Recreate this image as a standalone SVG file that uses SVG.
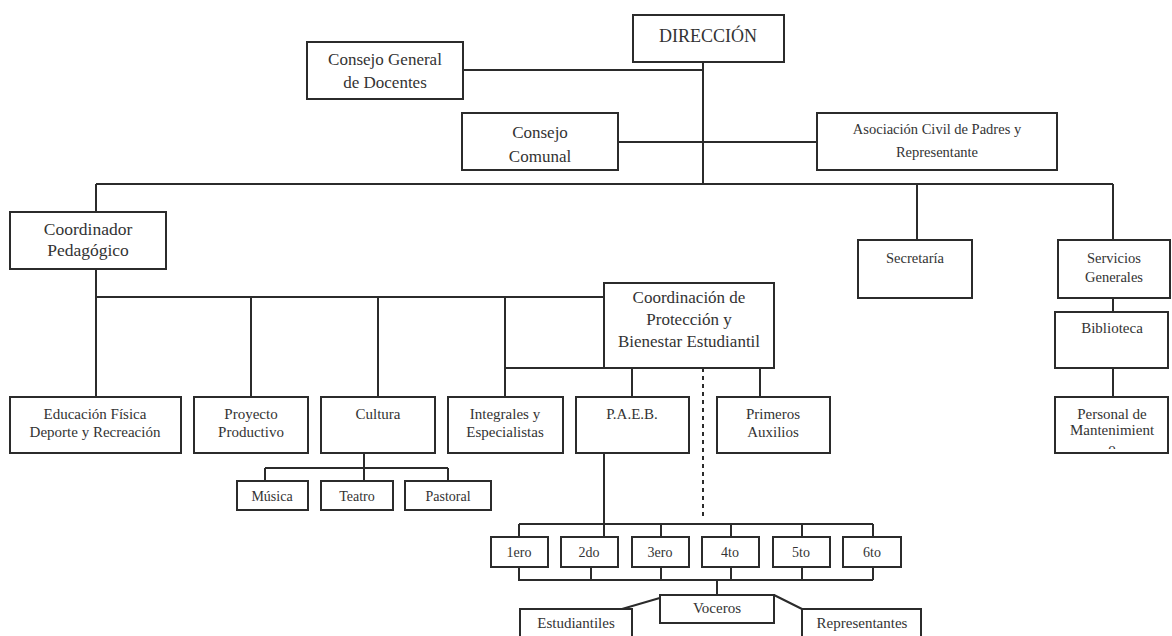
<svg xmlns="http://www.w3.org/2000/svg" width="1172" height="636" viewBox="0 0 1172 636">
<defs>
<style>
.b{fill:#fff;stroke:#2b2b2b;stroke-width:2}
.t{font-family:"Liberation Serif","Times New Roman",serif;fill:#333;text-anchor:middle}
.c path{fill:none;stroke:#2b2b2b;stroke-width:2}
.c .d{stroke-dasharray:4 4}
</style>
<clipPath id="pmclip"><rect x="1055" y="397" width="113" height="52"/></clipPath>
</defs>
<rect width="1172" height="636" fill="#fff"/>
<g class="c" id="connectors">
<path d="M703,62V184M463,70H703M618,142H817M96,184H1113M96,184V212M917,184V240M1113,184V240M1113,298V312M1113,368V397"/>
<path d="M96,269V397M96,297H604M251,297V397M378,297V397M505,297V397M505,368H604M632,368V397M760,368V397"/>
<path class="d" d="M703,368V520"/>
<path d="M364,453V481M265,468H448M265,468V481M448,468V481"/>
<path d="M604,453V537M519,524H873M519,524V537M661,524V537M731,524V537M802,524V537M873,524V537"/>
<path d="M519,567V580H873M591,567V580M661,567V580M731,567V580M802,567V580M873,567V580M717,580V595"/>
<path d="M670,595L622,609M774,595L802,609"/>
</g>
<g id="direccion"><rect class="b" x="633" y="15" width="151" height="47"/><text class="t" x="708" y="42" font-size="18">DIRECCIÓN</text></g>
<g id="consejo-general"><rect class="b" x="307" y="42" width="156" height="57"/><text class="t" x="385" y="65" font-size="17">Consejo General</text><text class="t" x="385" y="88" font-size="17">de Docentes</text></g>
<g id="consejo-comunal"><rect class="b" x="462" y="113" width="156" height="57"/><text class="t" x="540" y="138" font-size="17">Consejo</text><text class="t" x="540" y="162" font-size="17">Comunal</text></g>
<g id="asociacion"><rect class="b" x="817" y="113" width="240" height="57"/><text class="t" x="937" y="134" font-size="14.5">Asociación Civil de Padres y</text><text class="t" x="937" y="157" font-size="14.5">Representante</text></g>
<g id="coordinador"><rect class="b" x="10" y="212" width="156" height="57"/><text class="t" x="88" y="235" font-size="17.5">Coordinador</text><text class="t" x="88" y="256" font-size="17.5">Pedagógico</text></g>
<g id="secretaria"><rect class="b" x="858" y="240" width="114" height="58"/><text class="t" x="915" y="263" font-size="14.5">Secretaría</text></g>
<g id="servicios"><rect class="b" x="1058" y="240" width="112" height="58"/><text class="t" x="1114" y="263" font-size="14.5">Servicios</text><text class="t" x="1114" y="282" font-size="14.5">Generales</text></g>
<g id="biblioteca"><rect class="b" x="1055" y="312" width="113" height="56"/><text class="t" x="1112" y="333" font-size="15">Biblioteca</text></g>
<g id="personal"><rect class="b" x="1055" y="397" width="113" height="56"/><text class="t" x="1112" y="419" font-size="15">Personal de</text><text class="t" x="1112" y="435" font-size="15">Mantenimient</text><text class="t" x="1112" y="453" font-size="15" clip-path="url(#pmclip)">o</text></g>
<g id="coordinacion"><rect class="b" x="604" y="283" width="170" height="85"/><text class="t" x="689" y="303" font-size="17">Coordinación de</text><text class="t" x="689" y="325" font-size="17">Protección y</text><text class="t" x="689" y="347" font-size="17">Bienestar Estudiantil</text></g>
<g id="educacion"><rect class="b" x="10" y="397" width="171" height="56"/><text class="t" x="95" y="419" font-size="15">Educación Física</text><text class="t" x="95" y="437" font-size="15">Deporte y Recreación</text></g>
<g id="proyecto"><rect class="b" x="194" y="397" width="114" height="56"/><text class="t" x="251" y="419" font-size="15">Proyecto</text><text class="t" x="251" y="437" font-size="15">Productivo</text></g>
<g id="cultura"><rect class="b" x="321" y="397" width="114" height="56"/><text class="t" x="378" y="419" font-size="15">Cultura</text></g>
<g id="integrales"><rect class="b" x="448" y="397" width="115" height="56"/><text class="t" x="505" y="419" font-size="15">Integrales y</text><text class="t" x="505" y="437" font-size="15">Especialistas</text></g>
<g id="paeb"><rect class="b" x="576" y="397" width="113" height="56"/><text class="t" x="632" y="419" font-size="15">P.A.E.B.</text></g>
<g id="primeros"><rect class="b" x="717" y="397" width="113" height="56"/><text class="t" x="773" y="419" font-size="15">Primeros</text><text class="t" x="773" y="437" font-size="15">Auxilios</text></g>
<g id="musica"><rect class="b" x="237" y="481" width="71" height="29"/><text class="t" x="272" y="501" font-size="14">Música</text></g>
<g id="teatro"><rect class="b" x="321" y="481" width="72" height="29"/><text class="t" x="357" y="501" font-size="14">Teatro</text></g>
<g id="pastoral"><rect class="b" x="405" y="481" width="86" height="29"/><text class="t" x="448" y="501" font-size="14">Pastoral</text></g>
<g id="g1"><rect class="b" x="491" y="537" width="57" height="30"/><text class="t" x="519" y="557" font-size="14">1ero</text></g>
<g id="g2"><rect class="b" x="561" y="537" width="57" height="30"/><text class="t" x="589" y="557" font-size="14">2do</text></g>
<g id="g3"><rect class="b" x="632" y="537" width="57" height="30"/><text class="t" x="660" y="557" font-size="14">3ero</text></g>
<g id="g4"><rect class="b" x="702" y="537" width="57" height="30"/><text class="t" x="730" y="557" font-size="14">4to</text></g>
<g id="g5"><rect class="b" x="773" y="537" width="57" height="30"/><text class="t" x="801" y="557" font-size="14">5to</text></g>
<g id="g6"><rect class="b" x="843" y="537" width="58" height="30"/><text class="t" x="872" y="557" font-size="14">6to</text></g>
<g id="voceros"><rect class="b" x="660" y="595" width="114" height="28"/><text class="t" x="717" y="613" font-size="15">Voceros</text></g>
<g id="estudiantiles"><rect class="b" x="520" y="609" width="112" height="34"/><text class="t" x="576" y="628" font-size="15">Estudiantiles</text></g>
<g id="representantes"><rect class="b" x="802" y="609" width="119" height="34"/><text class="t" x="862" y="628" font-size="15">Representantes</text></g>
</svg>
